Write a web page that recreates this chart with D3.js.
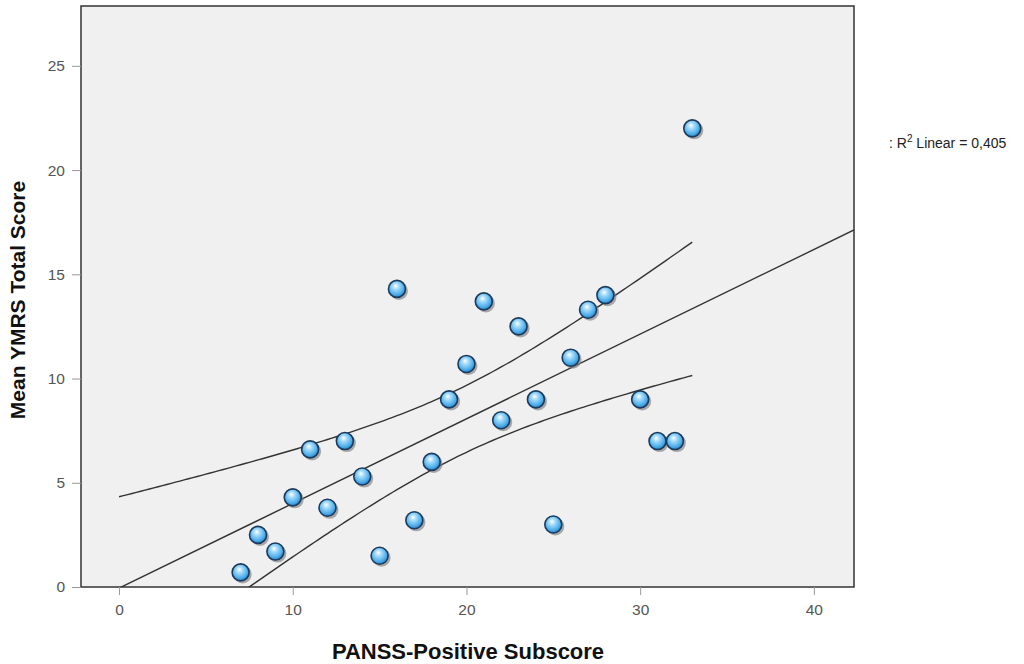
<!DOCTYPE html>
<html>
<head>
<meta charset="utf-8">
<script src="https://cdn.jsdelivr.net/npm/d3@7"></script>
<style>
body { margin: 0; background: #fff; }
text { font-family: "Liberation Sans", Arial, sans-serif; }
</style>
</head>
<body>
<svg width="1024" height="664"></svg>
<script>
// PANSS-Positive subscore (x) vs mean YMRS total score (y)
var panss = [7, 8, 9, 10, 11, 12, 13, 14, 15, 16, 17, 18, 19, 20, 21, 22, 23, 24, 25, 26, 27, 28, 30, 31, 32, 33];
var ymrs  = [0.7, 2.5, 1.7, 4.3, 6.6, 3.8, 7.0, 5.3, 1.5, 14.3, 3.2, 6.0, 9.0, 10.7, 13.7, 8.0, 12.5, 9.0, 3.0, 11.0, 13.3, 14.0, 9.0, 7.0, 7.0, 22.0];
var xTicks = [0, 10, 20, 30, 40];
var yTicks = [0, 5, 10, 15, 20, 25];
var legendText = "R² Linear = 0,405";

var svg = d3.select("svg");
var pLeft = 81, pRight = 854, pTop = 6, pBottom = 587;

var x = d3.scaleLinear().domain([-2.19, 42.31]).range([pLeft, pRight]);
var y = d3.scaleLinear().domain([0, 27.87]).range([pBottom, pTop]);

var defs = svg.append("defs");
defs.append("clipPath").attr("id", "plotclip")
    .append("rect").attr("x", pLeft).attr("y", pTop)
    .attr("width", pRight - pLeft).attr("height", pBottom - pTop);

var grad = defs.append("radialGradient").attr("id", "ball")
    .attr("cx", "45%").attr("cy", "40%").attr("r", "60%")
    .attr("fx", "42%").attr("fy", "32%");
grad.append("stop").attr("offset", "0%").attr("stop-color", "#ffffff");
grad.append("stop").attr("offset", "30%").attr("stop-color", "#a6dcfb");
grad.append("stop").attr("offset", "75%").attr("stop-color", "#4eaeea");
grad.append("stop").attr("offset", "100%").attr("stop-color", "#2a84c8");

// plot background
svg.append("rect")
    .attr("x", pLeft).attr("y", pTop)
    .attr("width", pRight - pLeft).attr("height", pBottom - pTop)
    .attr("fill", "#f0f0f0");

// linear fit + 95% CI of the mean, from the points
var n = panss.length;
var mx = d3.mean(panss), my = d3.mean(ymrs);
var sxx = d3.sum(panss, function(d) { return (d - mx) * (d - mx); });
var sxy = d3.sum(panss, function(d, i) { return (d - mx) * (ymrs[i] - my); });
var slope = sxy / sxx, icpt = my - slope * mx;
var sse = d3.sum(panss, function(d, i) { var r = ymrs[i] - (icpt + slope * d); return r * r; });
var s = Math.sqrt(sse / (n - 2));
var tval = 2.064;

function half(v) { return tval * s * Math.sqrt(1 / n + (v - mx) * (v - mx) / sxx); }

var fitX = x.domain();
var ciX = d3.range(0, 33.001, 0.25);

var line = d3.line()
    .x(function(d) { return x(d[0]); })
    .y(function(d) { return y(d[1]); });

var g = svg.append("g").attr("clip-path", "url(#plotclip)");

g.append("path")
    .datum(fitX.map(function(v) { return [v, icpt + slope * v]; }))
    .attr("d", line)
    .attr("fill", "none").attr("stroke", "#333").attr("stroke-width", 1.4);

g.append("path")
    .datum(ciX.map(function(v) { return [v, icpt + slope * v + half(v)]; }))
    .attr("d", line)
    .attr("fill", "none").attr("stroke", "#333").attr("stroke-width", 1.4);

g.append("path")
    .datum(ciX.map(function(v) { return [v, icpt + slope * v - half(v)]; }))
    .attr("d", line)
    .attr("fill", "none").attr("stroke", "#333").attr("stroke-width", 1.4);

// markers: shadow then ball
var pts = panss.map(function(d, i) { return [d, ymrs[i]]; });

svg.append("g").selectAll("circle")
    .data(pts).enter().append("circle")
    .attr("cx", function(d) { return x(d[0]) + 2; })
    .attr("cy", function(d) { return y(d[1]) + 2; })
    .attr("r", 9)
    .attr("fill", "#808080").attr("opacity", 0.65);

svg.append("g").selectAll("circle")
    .data(pts).enter().append("circle")
    .attr("cx", function(d) { return x(d[0]); })
    .attr("cy", function(d) { return y(d[1]); })
    .attr("r", 8.5)
    .attr("fill", "url(#ball)")
    .attr("stroke", "#1c3a5c").attr("stroke-width", 1.6);

// frame
svg.append("rect")
    .attr("x", pLeft).attr("y", pTop)
    .attr("width", pRight - pLeft).attr("height", pBottom - pTop)
    .attr("fill", "none").attr("stroke", "#333").attr("stroke-width", 1.5);

// axes
var xAxis = svg.append("g")
    .attr("transform", "translate(0," + pBottom + ")")
    .call(d3.axisBottom(x).tickValues(xTicks).tickSize(8).tickPadding(9));
var yAxis = svg.append("g")
    .attr("transform", "translate(" + pLeft + ",0)")
    .call(d3.axisLeft(y).tickValues(yTicks).tickSize(9).tickPadding(7));

[xAxis, yAxis].forEach(function(a) {
    a.select(".domain").remove();
    a.selectAll(".tick line").attr("stroke", "#999");
    a.selectAll(".tick text")
        .attr("fill", "#555")
        .style("font-family", "'Liberation Sans', Arial, sans-serif")
        .style("font-size", "15.5px");
});

// axis titles
svg.append("text")
    .attr("x", 468)
    .attr("y", 659)
    .attr("text-anchor", "middle")
    .style("font-weight", "bold").style("font-size", "22px")
    .attr("fill", "#111")
    .text("PANSS-Positive Subscore");

svg.append("text")
    .attr("transform", "translate(25,300)rotate(-90)")
    .attr("text-anchor", "middle")
    .style("font-weight", "bold").style("font-size", "21px")
    .attr("fill", "#111")
    .text("Mean YMRS Total Score");

// legend
var lg = svg.append("text")
    .attr("x", 889).attr("y", 148)
    .style("font-size", "14px").attr("fill", "#222");
lg.append("tspan").text(": R");
lg.append("tspan").attr("dy", -6).style("font-size", "10px").text("2");
lg.append("tspan").attr("dy", 6).text(legendText.slice(2));
</script>
</body>
</html>
